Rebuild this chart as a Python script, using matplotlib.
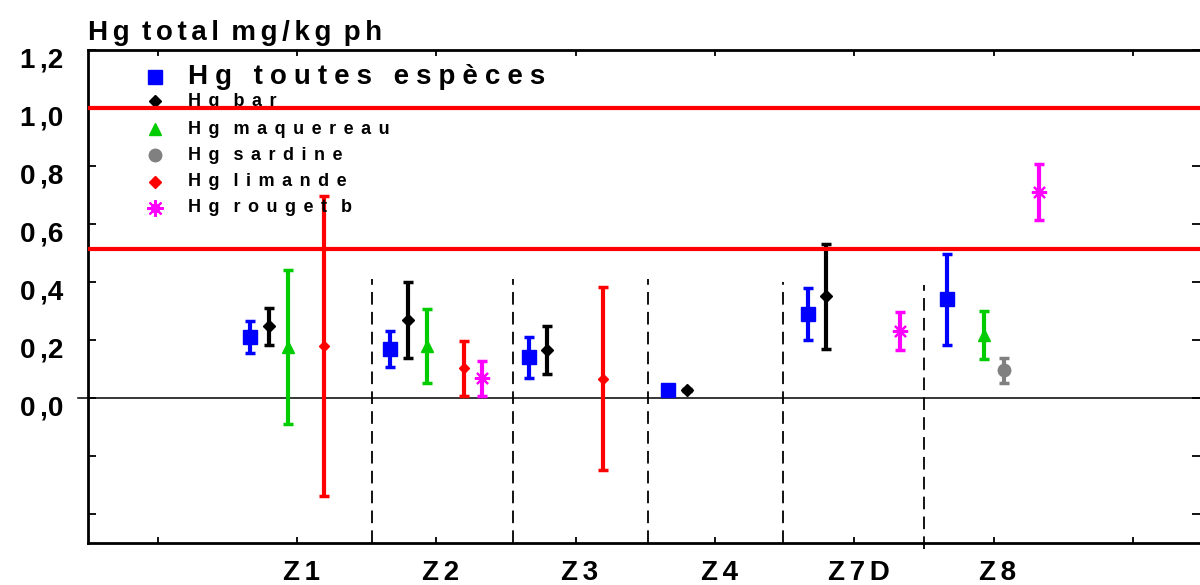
import numpy as np
import matplotlib
matplotlib.use('Agg')
import matplotlib.pyplot as plt
from matplotlib.transforms import ScaledTranslation

plt.rcParams['font.family'] = ['Liberation Sans', 'DejaVu Sans']
plt.rcParams['font.weight'] = 'bold'

# mean Hg (mg/kg wet weight) per zone, with the half-width of each error bar
zones = ['Z1', 'Z2', 'Z3', 'Z4', 'Z7D', 'Z8']
nan = np.nan

toutes = [0.21, 0.17, 0.14, 0.027, 0.29, 0.34]
toutes_err = [0.056, 0.062, 0.071, 0.004, 0.091, 0.158]
bar = [0.247, 0.268, 0.166, 0.028, 0.351, nan]
bar_err = [0.063, 0.131, 0.082, 0.003, 0.181, nan]
maquereau = [0.176, 0.18, nan, nan, nan, 0.216]
maquereau_err = [0.264, 0.127, nan, nan, nan, 0.083]
sardine = [nan, nan, nan, nan, nan, 0.095]
sardine_err = [nan, nan, nan, nan, nan, 0.042]
limande = [0.178, 0.103, 0.067, nan, nan, nan]
limande_err = [0.517, 0.095, 0.316, nan, nan, nan]
rouget = [nan, 0.068, nan, nan, 0.23, 0.71]
rouget_err = [nan, 0.06, nan, nan, 0.066, 0.097]

seuils = [1.0, 0.515]
separateurs = [1.54, 2.55, 3.52, 4.49, 5.50]
sep_hauts = [0.41, 0.41, 0.41, 0.40, 0.39]


def spaced(s, lg='\u2006', wg='\u2006 '):
    # wide letter tracking like the old plotting software
    return wg.join(lg.join(w) for w in s.split(' '))


series = [
    (toutes, toutes_err, -0.335, '#0000ff', 's', 10, 'Hg toutes espèces'),
    (bar, bar_err, -0.203, '#000000', 'D', 6, 'Hg bar'),
    (maquereau, maquereau_err, -0.067, '#00cc00', '^', 9, 'Hg maquereau'),
    (sardine, sardine_err, 0.07, '#808080', 'o', 9, 'Hg sardine'),
    (limande, limande_err, 0.196, '#ff0000', 'D', 5, 'Hg limande'),
    (rouget, rouget_err, 0.328, '#ff00ff', (8, 2, 0), 11, 'Hg rouget b'),
]

fig = plt.figure(figsize=(12, 5.85), dpi=100)
ax = fig.add_axes([88 / 1200, 42 / 585, 1112 / 1200, 493 / 585])

xpos = np.arange(1, len(zones) + 1)
for vals, errs, off, col, mk, ms, lab in series:
    x = xpos + off
    ax.errorbar(x, vals, yerr=errs, fmt='none', ecolor=col, elinewidth=3,
                capsize=3.8, capthick=2.5, zorder=3)
    if mk == (8, 2, 0):
        ax.plot(x, vals, 'o', color=col, ms=5, zorder=4)
        ax.plot(x, vals, linestyle='none', marker=mk, color=col, ms=ms,
                mew=1.5, zorder=4)
    else:
        ax.plot(x, vals, linestyle='none', marker=mk, color=col, ms=ms,
                mec=col, zorder=4)

# threshold lines
for s in seuils:
    ax.axhline(s, color='#ff0000', lw=3, zorder=5)
ax.axhline(0, color='black', lw=1.1, zorder=2)
ax.plot([-0.57, -0.5], [0, 0], color='black', lw=1.1, clip_on=False)

# dashed separators between zones
for i, (sx, h) in enumerate(zip(separateurs, sep_hauts)):
    bas = -0.52 if i == len(separateurs) - 1 else -0.5
    ax.plot([sx, sx], [bas, h], color='black', lw=1.3,
            linestyle=(0, (7, 4)), clip_on=False, zorder=2)

ax.set_xlim(-0.5, 7.48)
ax.set_ylim(-0.5, 1.2)

ax.set_xticks(range(8))
ax.set_xticklabels([''] + ['\u2006'.join(z) for z in zones] + [''],
                   fontsize=20)
yt = [-0.4, -0.2, 0.0, 0.2, 0.4, 0.6, 0.8, 1.0, 1.2]
ax.set_yticks(yt)
ax.set_yticklabels(['' if v < 0 else ('%.1f' % v).replace('.', '\u2006,')
                    for v in yt], fontsize=20)
ax.tick_params(axis='y', direction='in', length=6, width=1.3, pad=18,
               right=True)
ax.tick_params(axis='x', direction='in', length=4, width=1.3, pad=12,
               top=True)
for lbl in ax.get_yticklabels():
    lbl.set_transform(lbl.get_transform() +
                      ScaledTranslation(0, -8 / 100, fig.dpi_scale_trans))
for lbl in ax.get_xticklabels():
    lbl.set_transform(lbl.get_transform() +
                      ScaledTranslation(4 / 100, 0, fig.dpi_scale_trans))

for side in ['left', 'bottom', 'top']:
    ax.spines[side].set_linewidth(2)
ax.spines['right'].set_visible(False)

# legend drawn by hand, first entry larger
rows = [77, 101, 129, 155, 182, 208]
for (vals, errs, off, col, mk, ms, lab), ry in zip(series, rows):
    yy = (543 - ry) / 493
    if mk == (8, 2, 0):
        ax.plot(0.060, yy, 'o', color=col, ms=6, transform=ax.transAxes,
                clip_on=False)
        ax.plot(0.060, yy, marker=mk, color=col, ms=12, mew=1.5,
                transform=ax.transAxes, clip_on=False)
    else:
        ax.plot(0.060, yy, marker=mk, color=col, mec=col,
                ms=10 if mk == 's' else (9 if mk in ('^', 'o') else 6),
                transform=ax.transAxes, clip_on=False)
    if ry == rows[0]:
        txt = spaced(lab, '\u2005', ' \u2002')
        fs = 20
    else:
        txt = spaced(lab, '\u2005\u2006', ' \u2002')
        fs = 13
    ax.text(0.090, yy, txt, transform=ax.transAxes, va='center',
            ha='left', fontsize=fs, fontweight='bold', zorder=3)

fig.text(88 / 1200, (585 - 40) / 585, spaced('Hg total mg/kg ph'),
         fontsize=20, fontweight='bold', ha='left', va='baseline')

fig.savefig('out.png', dpi=100)
